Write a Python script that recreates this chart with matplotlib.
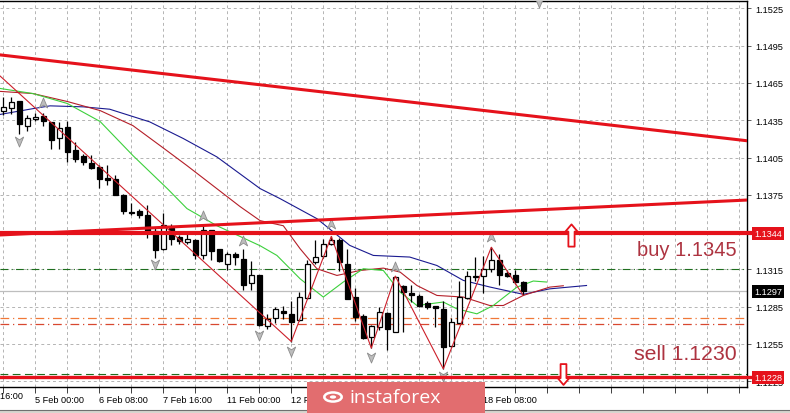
import numpy as np
import matplotlib.pyplot as plt
from matplotlib.path import Path
from matplotlib.patches import Rectangle, Circle

plt.rcParams['font.family'] = ['Liberation Sans', 'DejaVu Sans']

# H4 candles
open_ = [1.14426, 1.14450, 1.14503, 1.14302, 1.14364, 1.14386, 1.14337, 1.14208, 1.14297, 1.14108,
         1.14060, 1.14009, 1.13975, 1.13886, 1.13880, 1.13751, 1.13612, 1.13617, 1.13584, 1.13455,
         1.13310, 1.13485, 1.13410, 1.13370, 1.13389, 1.13262, 1.13464, 1.13310, 1.13195, 1.13270,
         1.13230, 1.13042, 1.13101, 1.12693, 1.12757, 1.12814, 1.12792, 1.12746, 1.12919, 1.13209,
         1.13257, 1.13351, 1.13383, 1.13195, 1.12927, 1.12774, 1.12604, 1.12685, 1.12798, 1.12649,
         1.13015, 1.12961, 1.12935, 1.12881, 1.12851, 1.12832, 1.12532, 1.12720, 1.12919, 1.13085,
         1.13096, 1.13149, 1.13222, 1.13123, 1.13106, 1.13052]
high_ = [1.14539, 1.14539, 1.14509, 1.14390, 1.14412, 1.14410, 1.14340, 1.14340, 1.14342, 1.14178,
         1.14082, 1.14074, 1.13993, 1.13993, 1.13907, 1.13759, 1.13687, 1.13638, 1.13671, 1.13483,
         1.13606, 1.13518, 1.13423, 1.13435, 1.13397, 1.13504, 1.13469, 1.13316, 1.13289, 1.13289,
         1.13310, 1.13214, 1.13106, 1.12792, 1.12846, 1.12854, 1.12899, 1.12967, 1.13227, 1.13389,
         1.13397, 1.13415, 1.13402, 1.13316, 1.12999, 1.12792, 1.12703, 1.12846, 1.12806, 1.13096,
         1.13020, 1.13020, 1.12953, 1.12899, 1.12859, 1.12899, 1.12757, 1.13060, 1.13133, 1.13249,
         1.13260, 1.13328, 1.13276, 1.13141, 1.13141, 1.13060]
low_ = [1.14390, 1.14404, 1.14243, 1.14261, 1.14342, 1.14302, 1.14116, 1.14122, 1.14015, 1.14015,
        1.13993, 1.13961, 1.13805, 1.13832, 1.13746, 1.13598, 1.13584, 1.13563, 1.13402, 1.13241,
        1.13308, 1.13348, 1.13356, 1.13356, 1.13235, 1.13235, 1.13222, 1.13209, 1.13141, 1.13181,
        1.12980, 1.12980, 1.12693, 1.12671, 1.12720, 1.12752, 1.12569, 1.12738, 1.12913, 1.13195,
        1.13241, 1.13343, 1.13133, 1.12913, 1.12738, 1.12591, 1.12516, 1.12658, 1.12504, 1.12647,
        1.12649, 1.12886, 1.12846, 1.12832, 1.12685, 1.12349, 1.12524, 1.12720, 1.12913, 1.13060,
        1.12961, 1.13128, 1.13026, 1.13088, 1.13034, 1.12940]
close_ = [1.14458, 1.14493, 1.14318, 1.14369, 1.14378, 1.14342, 1.14195, 1.14289, 1.14095, 1.14041,
          1.14015, 1.13966, 1.13880, 1.13872, 1.13751, 1.13617, 1.13606, 1.13590, 1.13455, 1.13302,
          1.13504, 1.13391, 1.13375, 1.13397, 1.13262, 1.13469, 1.13294, 1.13214, 1.13276, 1.13249,
          1.13020, 1.13101, 1.12703, 1.12752, 1.12832, 1.12798, 1.12730, 1.12927, 1.13195, 1.13249,
          1.13351, 1.13383, 1.13209, 1.12913, 1.12766, 1.12596, 1.12690, 1.12806, 1.12671, 1.13088,
          1.12967, 1.12940, 1.12859, 1.12846, 1.12840, 1.12524, 1.12730, 1.12927, 1.13096, 1.13096,
          1.13149, 1.13222, 1.13106, 1.13096, 1.13048, 1.12972]

time_label_idx = [-4, 4, 12, 20, 28, 36, 44, 52, 60]
time_labels = ['1 Feb 16:00', '5 Feb 00:00', '6 Feb 08:00', '7 Feb 16:00', '11 Feb 00:00',
               '12 Feb 08:00', '13 Feb 16:00', '15 Feb 00:00', '18 Feb 08:00']

price_ticks = [1.1525, 1.1495, 1.1465, 1.1435, 1.1405, 1.1375, 1.1345, 1.1315, 1.1285, 1.1255, 1.1225]

# alligator (jaw / teeth / lips), shifted forward past the last bar
jaw_idx = [-1, 3.75, 5.84, 10, 13.3, 18.3, 22.5, 26.7, 32.1, 34.6, 39.2, 41.25, 43.3, 46.25,
           50.8, 54.2, 57.5, 60.8, 65, 68.3, 72.9]
jaw_val = [1.14390, 1.14444, 1.14466, 1.14458, 1.14439, 1.14337, 1.14203, 1.14055, 1.13800,
           1.13719, 1.13558, 1.13451, 1.13343, 1.13262, 1.13249, 1.13181, 1.13061, 1.13008,
           1.12949, 1.12993, 1.13020]
teeth_idx = [-1, 3.7, 8.0, 12.1, 16.2, 19.6, 22.96, 26.2, 29.6, 32.1, 35.0, 37.1, 39.2, 41.7,
             44.6, 47.5, 49.6, 51.7, 54.2, 57.5, 60.8, 62.5, 65.0, 68.3, 70.0]
teeth_val = [1.14585, 1.14565, 1.14501, 1.14428, 1.14307, 1.14146, 1.13985, 1.13824, 1.13655,
             1.13542, 1.13501, 1.13316, 1.13155, 1.13101, 1.13141, 1.13160, 1.13128, 1.13020,
             1.12940, 1.12927, 1.12859, 1.12859, 1.12940, 1.13007, 1.13018]
lips_idx = [-1, 3.7, 8.0, 12.1, 16.2, 20.5, 22.96, 26.7, 32.1, 34.2, 37.1, 40.0, 42.5, 45.0,
            47.5, 49.6, 51.7, 55.0, 56.7, 59.2, 61.25, 64.2, 66.25, 67.9]
lips_val = [1.14612, 1.14565, 1.14485, 1.14340, 1.14066, 1.13800, 1.13639, 1.13501, 1.13340,
            1.13262, 1.13074, 1.12927, 1.13048, 1.13155, 1.13141, 1.12967, 1.12859, 1.12887,
            1.12832, 1.12792, 1.12859, 1.13007, 1.13056, 1.13048]

zigzag_idx = [-2, 36, 41, 46, 49, 55, 61, 65]
zigzag_val = [1.14800, 1.12569, 1.13415, 1.12516, 1.13096, 1.12349, 1.13328, 1.12940]

frac_up_idx = [5, 25, 30, 41, 49, 61]
frac_up_val = [1.14489, 1.13582, 1.13381, 1.13515, 1.13167, 1.13408]
frac_dn_idx = [2, 19, 32, 36, 46, 55, 67]
frac_dn_val = [1.14186, 1.13193, 1.12622, 1.12495, 1.12442, 1.12294, 1.15300]

# drawn objects
trend_down_idx = [-2, 95]
trend_down_val = [1.14888, 1.14170]
trend_up_idx = [-2, 95]
trend_up_val = [1.13422, 1.13714]
buy_level = 1.13442
sell_level = 1.12282
last_price = 1.12972
green_lvl_hi = 1.13155
green_lvl_lo = 1.12309
orange_lvl_1 = 1.12757
orange_lvl_2 = 1.12711

RED = '#E5121B'
TXT_RED = '#AD3340'

fig = plt.figure(figsize=(7.9, 4.14), dpi=100)
ax = fig.add_axes([0, 26 / 414, 747 / 790, 386.5 / 414])

# grid
for k in range(0, 93, 4):
    ax.axvline(k, color='#B4B4B4', lw=0.7, ls=(0, (3, 3)), zorder=0.5)
for p in price_ticks:
    ax.axhline(p, color='#B4B4B4', lw=0.7, ls=(0, (3, 3)), zorder=0.5)

# horizontal levels
ax.axhline(last_price, color='#BEBEBE', lw=0.9, zorder=1)
ax.axhline(green_lvl_hi, color='#1E6E1E', lw=0.8, ls=(0, (7, 3, 1, 3)), zorder=1)
ax.axhline(green_lvl_lo, color='#1E6E1E', lw=0.8, ls=(0, (7, 4)), zorder=1)
ax.axhline(orange_lvl_1, color='#F07838', lw=0.9, ls=(0, (7, 3, 1, 3)), zorder=1)
ax.axhline(orange_lvl_2, color='#D84830', lw=0.9, ls=(0, (7, 3, 1, 3)), zorder=1)

# alligator
ax.plot(jaw_idx, jaw_val, color='#1A1A90', lw=0.8, zorder=2)
ax.plot(teeth_idx, teeth_val, color='#B41E28', lw=0.8, zorder=2)
ax.plot(lips_idx, lips_val, color='#3CD03C', lw=0.8, zorder=2)

# candles
idx = np.arange(len(open_))
o = np.array(open_)
c = np.array(close_)
up = c >= o
ax.vlines(idx, low_, high_, color='black', lw=0.9, zorder=3)
ax.bar(idx[up], (c - o)[up], bottom=o[up], width=0.6, color='white',
       edgecolor='black', lw=0.9, zorder=4)
ax.bar(idx[~up], (o - c)[~up], bottom=c[~up], width=0.6, color='black',
       edgecolor='black', lw=0.9, zorder=4)

# zigzag
ax.plot(zigzag_idx, zigzag_val, color='#CC1F2A', lw=0.8, zorder=5)

# fractals
head_up = Path([(0, 1), (0.75, -0.8), (0, -0.3), (-0.75, -0.8), (0, 1)],
               [Path.MOVETO, Path.LINETO, Path.LINETO, Path.LINETO, Path.CLOSEPOLY])
head_dn = Path([(0, -1), (0.75, 0.8), (0, 0.3), (-0.75, 0.8), (0, -1)],
               [Path.MOVETO, Path.LINETO, Path.LINETO, Path.LINETO, Path.CLOSEPOLY])
ax.plot(frac_up_idx, frac_up_val, ls='none', marker=head_up, ms=8,
        mfc='#BDBDBD', mec='#8C8C8C', mew=0.6, zorder=6)
ax.plot(frac_dn_idx, frac_dn_val, ls='none', marker=head_dn, ms=8,
        mfc='#BDBDBD', mec='#8C8C8C', mew=0.6, zorder=6)

# trend lines and levels
ax.plot(trend_down_idx, trend_down_val, color=RED, lw=2.2, zorder=7)
ax.plot(trend_up_idx, trend_up_val, color=RED, lw=2.2, zorder=7)
ax.axhline(buy_level, xmax=1.01, color=RED, lw=3, zorder=7, clip_on=False)
ax.axhline(sell_level, xmax=1.01, color=RED, lw=2.4, zorder=7, clip_on=False)

# hollow arrows
arrow_up = Path([(0, 1), (0.55, 0.35), (0.28, 0.35), (0.28, -1), (-0.28, -1),
                 (-0.28, 0.35), (-0.55, 0.35), (0, 1)],
                [Path.MOVETO] + [Path.LINETO] * 6 + [Path.CLOSEPOLY])
arrow_dn = Path([(0, -1), (0.55, -0.35), (0.28, -0.35), (0.28, 1), (-0.28, 1),
                 (-0.28, -0.35), (-0.55, -0.35), (0, -1)],
                [Path.MOVETO] + [Path.LINETO] * 6 + [Path.CLOSEPOLY])
ax.plot([70.9], [1.13427], marker=arrow_up, ms=16, mfc='white', mec=RED, mew=1.3,
        zorder=8, clip_on=False)
ax.plot([69.9], [1.12310], marker=arrow_dn, ms=15, mfc='white', mec=RED, mew=1.3,
        zorder=8, clip_on=False)

ax.text(79.2, 1.13306, 'buy 1.1345', color=TXT_RED, fontsize=14.5, va='center', ha='left', zorder=9)
ax.text(78.8, 1.12469, 'sell 1.1230', color=TXT_RED, fontsize=15.3, va='center', ha='left', zorder=9)

# axes
ax.spines['left'].set_visible(False)
for side in ['top', 'right', 'bottom']:
    ax.spines[side].set_color('black')
    ax.spines[side].set_linewidth(1)
ax.yaxis.tick_right()
ax.set_yticks(price_ticks)
ax.set_yticklabels(['%.4f' % p for p in price_ticks])
ax.tick_params(axis='y', length=3, width=0.7, color='#606060', pad=3, labelsize=6.6)

xt = list(range(0, 93, 4))
ax.set_xticks(xt)
ax.set_xticklabels([time_labels[time_label_idx.index(k)] if k in time_label_idx and k <= 65 else ''
                    for k in xt], ha='left')
ax.tick_params(axis='x', length=4, width=0.7, color='#404040', pad=1.5, labelsize=6.6)

# first time label sits left of the view, only its tail shows
ax.text(time_label_idx[0] + 0.4, -0.022, time_labels[0], transform=ax.get_xaxis_transform(),
        fontsize=6.6, ha='left', va='center', clip_on=False)

# view limits last, so the ticks do not widen them
ax.set_xlim(-0.4125, 92.96)
ax.set_ylim(1.12203, 1.15314)

# price label boxes on the right scale
yt = ax.get_yaxis_transform()
ax.text(1.0094, buy_level, '1.1344', transform=yt, color='white', fontsize=6.6, va='center',
        ha='left', zorder=10, clip_on=False,
        bbox=dict(boxstyle='square,pad=0.22', fc=RED, ec='none'))
ax.text(1.0094, last_price, '1.1297', transform=yt, color='white', fontsize=6.6, va='center',
        ha='left', zorder=10, clip_on=False,
        bbox=dict(boxstyle='square,pad=0.22', fc='black', ec='none'))
ax.text(1.0094, sell_level, '1.1228', transform=yt, color='white', fontsize=6.6, va='center',
        ha='left', zorder=10, clip_on=False,
        bbox=dict(boxstyle='square,pad=0.22', fc=RED, ec='none'))

# bottom strip
fig.add_artist(Rectangle((0, 0), 1, 3.5 / 414, transform=fig.transFigure,
                         fc='#D8D6D0', ec='none', zorder=1))
fig.add_artist(plt.Line2D([0, 1], [3.5 / 414, 3.5 / 414], transform=fig.transFigure,
                          color='#707070', lw=0.8, zorder=1))

# watermark
fig.add_artist(Rectangle((307 / 790, 0), 178 / 790, 31 / 414, transform=fig.transFigure,
                         fc='#E26D6F', ec='none', zorder=20))
fig.add_artist(Circle((333 / 790, 16 / 414), 0.011, transform=fig.transFigure,
                      fc='none', ec='white', lw=1.8, zorder=21))
fig.add_artist(Circle((333 / 790, 16 / 414), 0.004, transform=fig.transFigure,
                      fc='white', ec='none', zorder=21))
fig.text(395 / 790, 16 / 414, 'instaforex', color='white', fontsize=14,
         family=['Open Sans', 'DejaVu Sans'], ha='center', va='center', zorder=21)

fig.savefig('out.png', dpi=100, facecolor='white')
